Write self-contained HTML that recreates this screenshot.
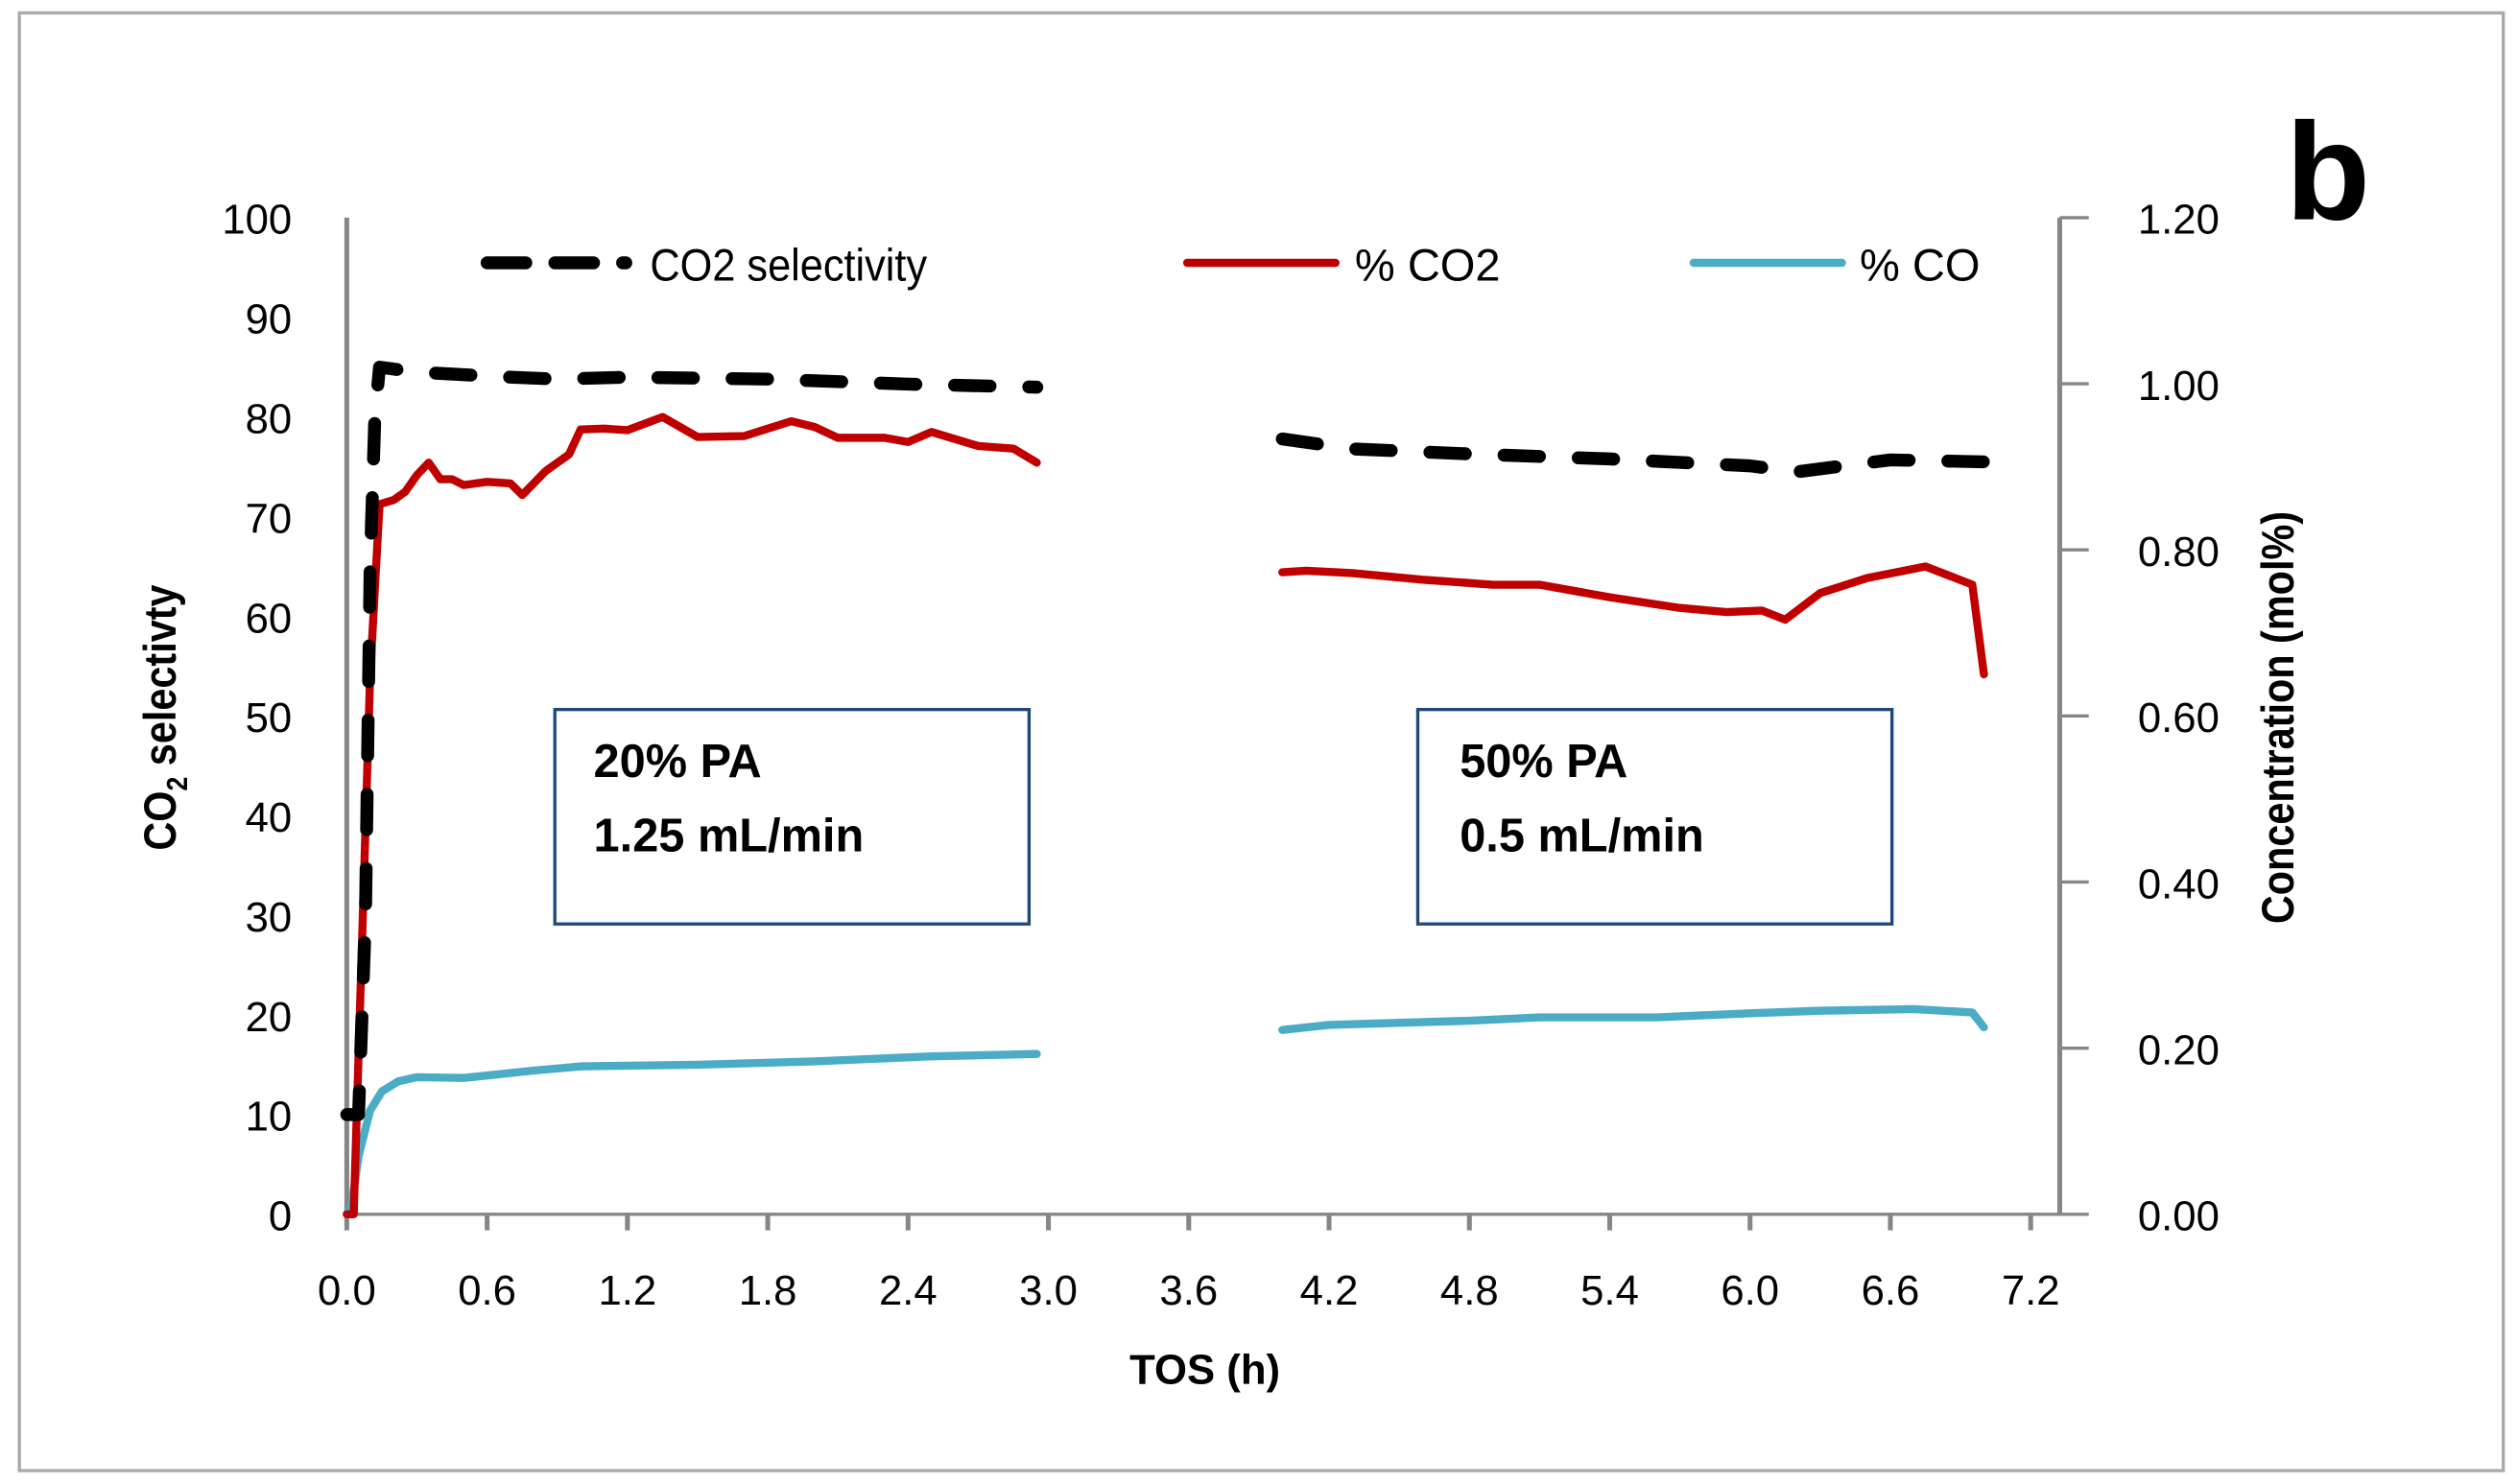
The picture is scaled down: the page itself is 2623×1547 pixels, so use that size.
<!DOCTYPE html>
<html><head><meta charset="utf-8"><style>
html,body{margin:0;padding:0;background:#fff}
svg{display:block}
text{font-family:"Liberation Sans",sans-serif}
</style></head><body>
<svg id="chart" width="2623" height="1547" viewBox="0 0 1560.5 920.3" preserveAspectRatio="none" xmlns="http://www.w3.org/2000/svg">
<rect x="12" y="8" width="1540" height="904" fill="#fff" stroke="#aaa" stroke-width="2"/>
<g id="axes"></g>
<g id="series"></g>
<g>
  <line x1="302" y1="163" x2="388" y2="163" stroke="#000" stroke-width="8" stroke-dasharray="24,18" stroke-linecap="round"/>
  <text x="403" y="174" font-size="28" transform="translate(403 0) scale(0.92 1) translate(-403 0)">CO2 selectivity</text>
  <line x1="736" y1="163" x2="828" y2="163" stroke="#c00000" stroke-width="5" stroke-linecap="round"/>
  <text x="840" y="174" font-size="28">% CO2</text>
  <line x1="1050" y1="163" x2="1142" y2="163" stroke="#4bacc6" stroke-width="5" stroke-linecap="round"/>
  <text x="1153" y="174" font-size="28">% CO</text>
</g>
<g>
  <rect x="344" y="440" width="294" height="133" fill="none" stroke="#1f497d" stroke-width="2"/>
  <text x="368" y="482" font-size="29" font-weight="bold">20% PA</text>
  <text x="368" y="528" font-size="29" font-weight="bold">1.25 mL/min</text>
</g>
<g>
  <rect x="879" y="440" width="294" height="133" fill="none" stroke="#1f497d" stroke-width="2"/>
  <text x="905" y="482" font-size="29" font-weight="bold">50% PA</text>
  <text x="905" y="528" font-size="29" font-weight="bold">0.5 mL/min</text>
</g>
<text x="1417" y="136" font-size="86" font-weight="bold">b</text>
<text x="747" y="858" font-size="26" font-weight="bold" text-anchor="middle">TOS (h)</text>
<text transform="translate(109 445) rotate(-90) scale(0.88 1)" font-size="28" font-weight="bold" text-anchor="middle">CO<tspan font-size="18" dy="7">2</tspan><tspan dy="-7"> selectivty</tspan></text>
<text transform="translate(1422 445) rotate(-90) scale(0.88 1)" font-size="28" font-weight="bold" text-anchor="middle">Concentration (mol%)</text>
</svg>
<script>
const xTicks = ["0.0","0.6","1.2","1.8","2.4","3.0","3.6","4.2","4.8","5.4","6.0","6.6","7.2"];
const yLeftTicks = ["0","10","20","30","40","50","60","70","80","90","100"];
const yRightTicks = ["0.00","0.20","0.40","0.60","0.80","1.00","1.20"];
const selT1 = [0,0.05,0.08,0.1,0.12,0.14,0.3,0.7,0.9,1.2,1.8,2.4,2.95];
const selV1 = [10,10,30,65,80,85,84.5,84,83.8,84,83.8,83.3,83];
const selT2 = [4.0,4.3,4.8,5.4,6.0,6.2,6.6,7.0];
const selV2 = [77.8,76.8,76.3,75.8,75.1,74.5,75.7,75.5];
const co2T1 = [0,0.03,0.1,0.14,0.2,0.25,0.3,0.35,0.4,0.45,0.5,0.6,0.7,0.75,0.85,0.95,1.0,1.1,1.2,1.35,1.5,1.7,1.9,2.0,2.1,2.3,2.4,2.5,2.7,2.85,2.95];
const co2V1 = [0,0,0.65,0.855,0.86,0.87,0.89,0.905,0.885,0.885,0.878,0.882,0.88,0.866,0.895,0.915,0.945,0.946,0.944,0.96,0.936,0.937,0.955,0.948,0.935,0.935,0.93,0.942,0.925,0.922,0.905];
const co2T2 = [4.0,4.1,4.3,4.6,4.9,5.1,5.4,5.7,5.9,6.05,6.15,6.3,6.5,6.75,6.95,7.0];
const co2V2 = [0.773,0.775,0.772,0.764,0.758,0.758,0.743,0.73,0.725,0.727,0.716,0.748,0.766,0.78,0.758,0.65];
const coT1 = [0,0.02,0.05,0.1,0.15,0.22,0.3,0.5,0.8,1.0,1.5,2.0,2.5,2.95];
const coV1 = [0,0.01,0.07,0.125,0.148,0.16,0.165,0.164,0.173,0.178,0.18,0.184,0.19,0.193];
const coT2 = [4.0,4.2,4.8,5.1,5.6,6.0,6.3,6.7,6.95,7.0];
const coV2 = [0.222,0.228,0.233,0.237,0.237,0.242,0.245,0.247,0.243,0.225];

const X0=215, XPH=(1259-215)/7.2, Y0=753, YTOP=135, XR=1277;
const xs = t => X0 + t*XPH;
const yL = v => Y0 - v/100*(Y0-YTOP);
const yR = v => Y0 - v/1.2*(Y0-YTOP);
const NS="http://www.w3.org/2000/svg";
function mk(tag, attrs, parent){const e=document.createElementNS(NS,tag);for(const k in attrs)e.setAttribute(k,attrs[k]);parent.appendChild(e);return e;}
const axes=document.getElementById('axes'), series=document.getElementById('series');
const grey="#868686";
let e;
e=mk('line',{x1:X0,y1:YTOP,x2:X0,y2:Y0,stroke:grey,'stroke-width':3},axes);


e=mk('line',{x1:X0,y1:Y0,x2:XR,y2:Y0,stroke:grey,'stroke-width':2},axes);


e=mk('line',{x1:XR,y1:YTOP,x2:XR,y2:Y0,stroke:grey,'stroke-width':3},axes);


xTicks.forEach((s,i)=>{const x=xs(parseFloat(s));
  mk('line',{x1:x,y1:Y0,x2:x,y2:Y0+10,stroke:grey,'stroke-width':3},axes);
  e=mk('text',{x:x,y:Y0+56,'font-size':26,'text-anchor':'middle'},axes);e.textContent=s;
  
  
});
yLeftTicks.forEach(s=>{const y=yL(parseFloat(s));
  e=mk('text',{x:181,y:y+10,'font-size':26,'text-anchor':'end'},axes);e.textContent=s;
  
  
});
yRightTicks.forEach(s=>{const y=yR(parseFloat(s));
  mk('line',{x1:XR,y1:y,x2:XR+18,y2:y,stroke:grey,'stroke-width':2},axes);
  e=mk('text',{x:1376,y:y+10,'font-size':26,'text-anchor':'end'},axes);e.textContent=s;
  
  
});
function path(T,V,yf,attrs,name){
  const d=T.map((t,i)=>(i?'L':'M')+xs(t).toFixed(1)+','+yf(V[i]).toFixed(1)).join(' ');
  const p=mk('path',Object.assign({d:d,fill:'none','stroke-linejoin':'round','stroke-linecap':'round'},attrs),series);
  
  
}
path(coT1,coV1,yR,{stroke:'#4bacc6','stroke-width':5},'co-line-segment-1');
path(coT2,coV2,yR,{stroke:'#4bacc6','stroke-width':5},'co-line-segment-2');
path(co2T1,co2V1,yR,{stroke:'#c00000','stroke-width':5},'co2-line-segment-1');
path(co2T2,co2V2,yR,{stroke:'#c00000','stroke-width':5},'co2-line-segment-2');
path(selT1,selV1,yL,{stroke:'#000','stroke-width':8,'stroke-dasharray':'22,24'},'selectivity-line-segment-1');
path(selT2,selV2,yL,{stroke:'#000','stroke-width':8,'stroke-dasharray':'22,24'},'selectivity-line-segment-2');
</script>
</body></html>
